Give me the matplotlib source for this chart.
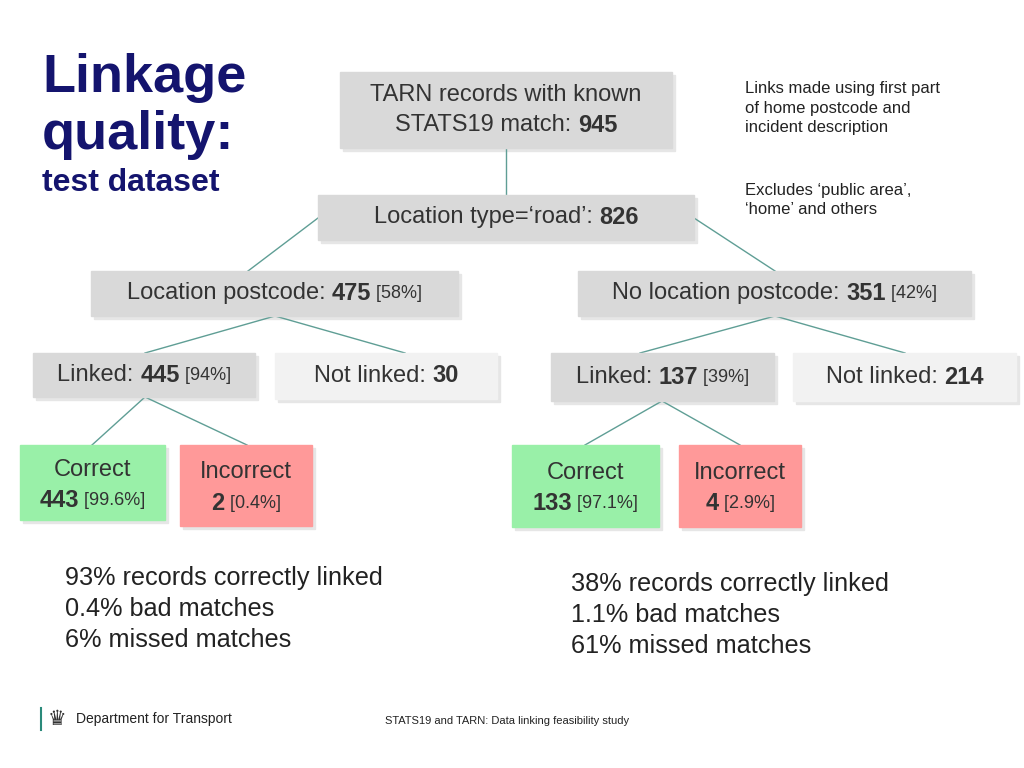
import matplotlib
matplotlib.use("Agg")
import matplotlib.pyplot as plt
from matplotlib.patches import Rectangle

plt.rcParams["font.family"] = "Liberation Sans"

# data
node_labels = ["TARN records with known\nSTATS19 match: ", "Location type=\u2018road\u2019: ", "Location postcode: ",
               "No location postcode: ", "Linked: ", "Not linked: ", "Linked: ", "Not linked: ",
               "Correct\n", "Incorrect\n", "Correct\n", "Incorrect\n"]
node_counts = [945, 826, 475, 351, 445, 30, 137, 214, 443, 2, 133, 4]
node_pcts = ["", "", "[58%]", "[42%]", "[94%]", "", "[39%]", "", "[99.6%]", "[0.4%]", "[97.1%]", "[2.9%]"]
summary_left = ["93% records correctly linked", "0.4% bad matches", "6% missed matches"]
summary_right = ["38% records correctly linked", "1.1% bad matches", "61% missed matches"]

# layout (pixel boxes)
boxes = [(340,72,672,148),(318,195,694,240),(91,271,458,316),(578,271,971,316),
         (33,353,255,397),(275,353,497,399),(551,353,774,401),(793,353,1016,401),
         (20,445,165,520),(180,445,312,526),(512,445,659,527),(679,445,801,527)]
fills = ["#d9d9d9"]*5 + ["#f2f2f2", "#d9d9d9", "#f2f2f2", "#99f0a8", "#ff9999", "#99f0a8", "#ff9999"]
edges = [((506,148),(506,195)),((318,218),(248,271)),((694,218),(775,271)),
         ((275,316),(145,353)),((275,316),(405,353)),((775,316),(640,353)),((775,316),(905,353)),
         ((145,397),(92,445)),((145,397),(247,445)),((662,401),(585,445)),((662,401),(740,445))]

BS, PS = 17, 13

fig = plt.figure(figsize=(10.24,7.68), dpi=100)
ax = fig.add_axes([0,0,1,1])
ax.set_xlim(0,1024); ax.set_ylim(768,0); ax.axis("off")
fig.canvas.draw()
r = fig.canvas.get_renderer()

def width(t, size, weight):
    tx = ax.text(0,0,t,fontsize=size,fontweight=weight)
    w = tx.get_window_extent(r).width
    tx.remove()
    return w

def seq(cx, cy, parts):
    tot = sum(width(t,s,w) for t,s,w in parts)
    x = cx - tot/2
    for t,s,w in parts:
        ax.text(x, cy, t, fontsize=s, fontweight=w, va="center", ha="left", color="#333333", zorder=3)
        x += width(t,s,w)

for (a,b) in edges:
    ax.plot([a[0],b[0]],[a[1],b[1]], color="#5f9e95", lw=1)

for i,(x0,y0,x1,y1) in enumerate(boxes):
    ax.add_patch(Rectangle((x0+3,y0+3),x1-x0,y1-y0,color="#e6e6e6",zorder=1))
    ax.add_patch(Rectangle((x0,y0),x1-x0,y1-y0,color=fills[i],zorder=2))
    cx, cy = (x0+x1)/2, (y0+y1)/2
    lab, cnt, pct = node_labels[i], str(node_counts[i]), node_pcts[i]
    if "\n" in lab:
        l1, l2 = lab.split("\n")
        if i == 0:
            ax.text(cx, cy-15, l1, fontsize=BS, ha="center", va="center", color="#333333", zorder=3)
            seq(cx, cy+15, [(l2,BS,"normal"),(cnt,BS,"bold")])
        else:
            ax.text(cx, cy-13, l1, fontsize=BS, ha="center", va="center", color="#333333", zorder=3)
            parts = [(cnt,BS,"bold")] + ([(" "+pct,PS,"normal")] if pct else [])
            seq(cx, cy+18, parts)
    else:
        parts = [(lab,BS,"normal"),(cnt,BS,"bold")] + ([(" "+pct,PS,"normal")] if pct else [])
        seq(cx, cy, parts)

ax.text(42,78,"Linkage",fontsize=39,fontweight="bold",color="#14146e",va="center")
ax.text(42,135,"quality:",fontsize=39,fontweight="bold",color="#14146e",va="center")
ax.text(42,183,"test dataset",fontsize=23,fontweight="bold",color="#14146e",va="center")
ax.text(745,108,"Links made using first part\nof home postcode and\nincident description",fontsize=12,va="center",color="#222222",linespacing=1.35)
ax.text(745,200,"Excludes \u2018public area\u2019,\n\u2018home\u2019 and others",fontsize=12,va="center",color="#222222",linespacing=1.35)
for k,t in enumerate(summary_left):
    ax.text(65,578+31*k,t,fontsize=18.2,va="center",color="#222222")
for k,t in enumerate(summary_right):
    ax.text(571,584+31*k,t,fontsize=18.2,va="center",color="#222222")
ax.plot([41,41],[708,730],color="#2a8a7a",lw=1.5)
ax.text(48,719,"\u265b",fontsize=15,va="center",color="#333333",family="DejaVu Sans")
ax.text(76,719,"Department for Transport",fontsize=10,va="center",color="#222222")
ax.text(385,721,"STATS19 and TARN: Data linking feasibility study",fontsize=8,va="center",color="#222222")
fig.savefig("out.png", dpi=100)
